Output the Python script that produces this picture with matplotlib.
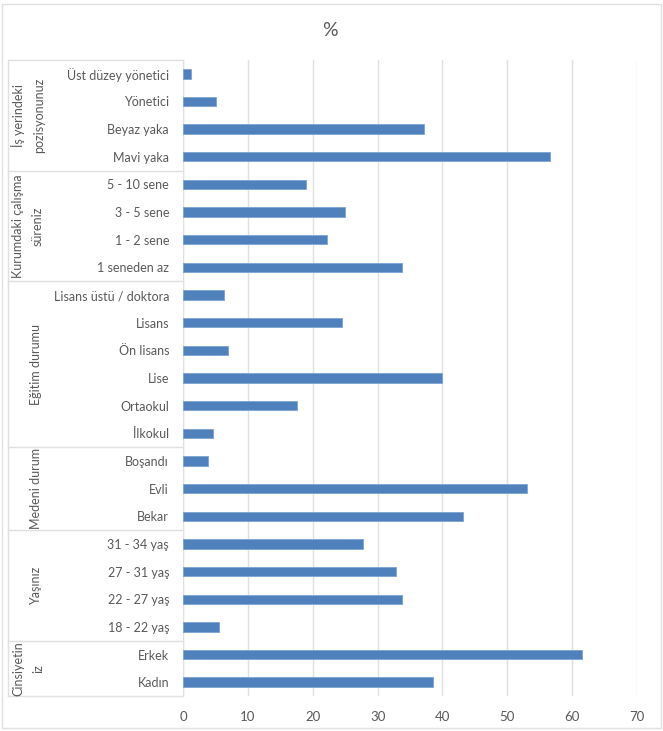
import matplotlib.pyplot as plt
from matplotlib.lines import Line2D
from matplotlib.patches import Rectangle
from matplotlib.transforms import blended_transform_factory

plt.rcParams['font.family'] = ['Lato', 'DejaVu Sans']

# kategoriler (alttan üste) ve yüzdeler
groups = ['Cinsiyetin\niz', 'Yaşınız', 'Medeni durum', 'Eğitim durumu',
          'Kurumdaki çalışma\nsüreniz', 'İş yerindeki\npozisyonunuz']
group_sizes = [2, 4, 3, 6, 4, 4]
labels = ['Kadın', 'Erkek',
          '18 - 22 yaş', '22 - 27 yaş', '27 - 31 yaş', '31 - 34 yaş',
          'Bekar', 'Evli', 'Boşandı',
          'İlkokul', 'Ortaokul', 'Lise', 'Ön lisans', 'Lisans', 'Lisans üstü / doktora',
          '1 seneden az', '1 - 2 sene', '3 - 5 sene', '5 - 10 sene',
          'Mavi yaka', 'Beyaz yaka', 'Yönetici', 'Üst düzey yönetici']
values = [38.5, 61.5,
          5.5, 33.7, 32.9, 27.8,
          43.1, 53.1, 3.8,
          4.7, 17.6, 39.9, 6.9, 24.5, 6.3,
          33.8, 22.2, 25.0, 18.9,
          56.6, 37.1, 5.1, 1.2]
xticks = [0, 10, 20, 30, 40, 50, 60, 70]

text_col = '#595959'
line_col = '#E0E0E0'
W, H = 663, 731

fig = plt.figure(figsize=(W / 100, H / 100), dpi=100)
ax = fig.add_axes([183 / W, 1 - 696 / H, (637 - 183) / W, (696 - 60) / H])

y = list(range(len(labels)))
ax.barh(y, values, height=0.34, color='#4F81BD', edgecolor='#7BA3D4', linewidth=0.6, zorder=3)

ax.set_xlim(0, 70)
ax.set_ylim(-0.5, len(labels) - 0.5)
ax.set_xticks(xticks)
ax.set_yticks(y)
ax.set_yticklabels(labels)
ax.tick_params(axis='y', length=0, pad=10, labelsize=9, labelcolor=text_col)
ax.tick_params(axis='x', length=0, pad=11, labelsize=9.5, labelcolor=text_col)
ax.grid(axis='x', color=line_col, linewidth=1, zorder=0)
for s in ['top', 'right', 'bottom']:
    ax.spines[s].set_visible(False)
ax.spines['left'].set_color(line_col)

fig.text(330 / W, 1 - 30 / H, '%', ha='center', va='center', fontsize=14, color=text_col)

# grup etiketleri ve ayırıcı çizgiler
tr = blended_transform_factory(fig.transFigure, ax.transData)
x0, x1 = 8 / W, 183 / W
start = -0.5
fig.add_artist(Line2D([x0, x1], [start, start], transform=tr, color=line_col, lw=1))
for name, n in zip(groups, group_sizes):
    end = start + n
    fig.add_artist(Line2D([x0, x1], [end, end], transform=tr, color=line_col, lw=1))
    gx = 28 / W if '\n' in name else 36 / W
    fig.text(gx, (start + end) / 2, name, transform=tr, rotation=90, ha='center', va='center',
             multialignment='center', fontsize=9, color=text_col, linespacing=1.8)
    start = end
fig.add_artist(Line2D([x0, x0], [-0.5, start], transform=tr, color=line_col, lw=1))

# dış çerçeve
fig.add_artist(Rectangle((2 / W, 3 / H), 659 / W, 724 / H, transform=fig.transFigure,
                         fill=False, edgecolor=line_col, lw=1))

fig.savefig('out.png', dpi=100)
